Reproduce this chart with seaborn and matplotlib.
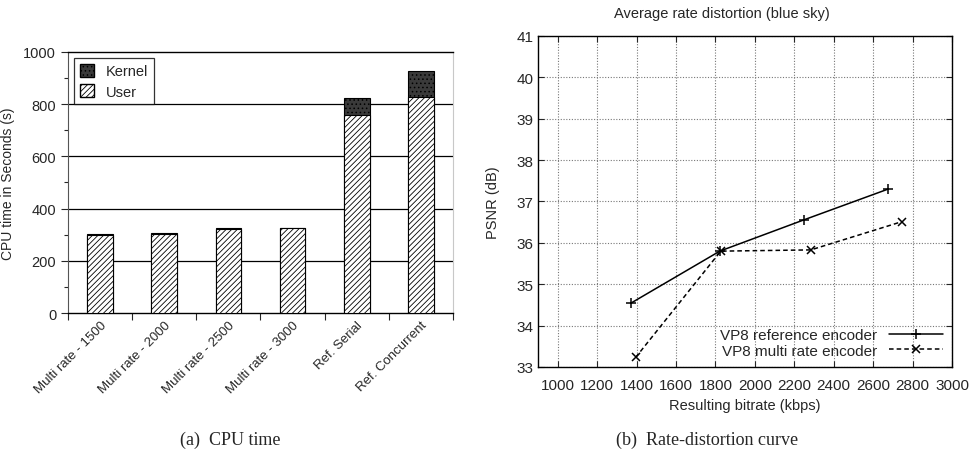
import numpy as np
import pandas as pd
import seaborn as sns
import matplotlib.pyplot as plt
from matplotlib.patches import Patch
from matplotlib.lines import Line2D

# CPU time data (seconds)
configs = ['Multi rate - 1500', 'Multi rate - 2000', 'Multi rate - 2500',
           'Multi rate - 3000', 'Ref. Serial', 'Ref. Concurrent']
user_time = [298, 304, 321, 324, 757, 829]
kernel_time = [3, 3, 3, 3, 67, 100]

# Rate-distortion data
ref_bitrate = [1370, 1822, 2251, 2676]
ref_psnr = [34.54, 35.80, 36.56, 37.30]
multi_bitrate = [1395, 1827, 2284, 2744]
multi_psnr = [33.23, 35.80, 35.83, 36.51]

sns.set_style('white')
plt.rcParams['font.family'] = ['Liberation Sans', 'DejaVu Sans']
plt.rcParams['hatch.linewidth'] = 0.6

fig = plt.figure(figsize=(9.74, 4.56), dpi=100)

# ---------------- (a) CPU time ----------------
ax1 = fig.add_axes([0.0698, 0.3114, 0.3953, 0.5724])
df_cpu = pd.DataFrame({'config': configs, 'user': user_time, 'kernel': kernel_time})
df_cpu['total'] = df_cpu['user'] + df_cpu['kernel']

for y in [200, 400, 600, 800]:
    ax1.axhline(y, color='black', lw=0.9, zorder=0)

sns.barplot(data=df_cpu, x='config', y='total', ax=ax1, width=0.4,
            color='#3a3a3a', edgecolor='black', linewidth=0.8, hatch='....',
            saturation=1, zorder=2)
sns.barplot(data=df_cpu, x='config', y='user', ax=ax1, width=0.4,
            color='white', edgecolor='black', linewidth=0.8, hatch='//////',
            saturation=1, zorder=3)

ax1.set_ylim(0, 1000)
ax1.set_xlim(-0.5, 5.5)
ax1.set_yticks(range(0, 1001, 200))
ax1.set_yticks(range(0, 1001, 100), minor=True)
ax1.set_xticks(np.arange(-0.5, 6, 1), minor=True)
ax1.tick_params(axis='x', which='major', length=0, pad=4)
ax1.tick_params(axis='x', which='minor', length=5, width=0.8, direction='out', bottom=True)
ax1.tick_params(axis='y', which='major', length=5, width=0.8, direction='out', left=True, labelsize=10.5)
ax1.tick_params(axis='y', which='minor', length=3, width=0.8, direction='out', left=True)
ax1.set_xticks(range(len(configs)))
ax1.set_xticklabels(configs, rotation=45, ha='right', rotation_mode='anchor', fontsize=9.5)
ax1.set_xlabel('')
ax1.set_ylabel('CPU time in Seconds (s)', fontsize=10, labelpad=6)
for side in ['top', 'bottom']:
    ax1.spines[side].set_color('black')
    ax1.spines[side].set_linewidth(1.0)
ax1.spines['left'].set_color('#555555')
ax1.spines['right'].set_color('#c8c8c8')

handles = [Patch(facecolor='#3a3a3a', edgecolor='black', hatch='....', label='Kernel'),
           Patch(facecolor='white', edgecolor='black', hatch='//////', label='User')]
leg1 = ax1.legend(handles=handles, loc='upper left', fontsize=10.5, frameon=True,
                  fancybox=False, edgecolor='black', handlelength=1.0, handleheight=1.0,
                  borderaxespad=0.4, labelspacing=0.4)
leg1.get_frame().set_linewidth(0.9)

# ---------------- (b) Rate-distortion curve ----------------
ax2 = fig.add_axes([0.5524, 0.193, 0.425, 0.7259])
df_ref = pd.DataFrame({'bitrate': ref_bitrate, 'psnr': ref_psnr})
df_multi = pd.DataFrame({'bitrate': multi_bitrate, 'psnr': multi_psnr})

sns.lineplot(data=df_ref, x='bitrate', y='psnr', ax=ax2, color='black', lw=1.1,
             marker='+', markersize=7, markeredgewidth=1.1,
             markeredgecolor='black', sort=False)
sns.lineplot(data=df_multi, x='bitrate', y='psnr', ax=ax2, color='black', lw=1.1,
             linestyle=(0, (3, 2)), marker='x', markersize=5.5, markeredgewidth=1.1,
             markeredgecolor='black', sort=False)

ax2.set_xlim(900, 3000)
ax2.set_ylim(33, 41)
ax2.set_xticks(range(1000, 3001, 200))
ax2.set_yticks(range(33, 42))
ax2.grid(True, linestyle=(0, (1, 1.5)), color='#777777', lw=0.8)
ax2.tick_params(axis='both', direction='in', length=4, width=0.8, top=True,
                right=True, bottom=True, left=True, labelsize=11)
ax2.tick_params(axis='x', pad=8)
ax2.set_xlabel('Resulting bitrate (kbps)', fontsize=10.5, labelpad=4)
ax2.set_ylabel('PSNR (dB)', fontsize=10.5, labelpad=12)
for s in ax2.spines.values():
    s.set_color('black')
    s.set_linewidth(1.0)

leg_handles = [
    Line2D([], [], color='black', lw=1.1, marker='+', markersize=7,
           markeredgewidth=1.1),
    Line2D([], [], color='black', lw=1.1, linestyle=(0, (3, 2)), marker='x',
           markersize=5.5, markeredgewidth=1.1),
]
ax2.legend(leg_handles, ['VP8 reference encoder', 'VP8 multi rate encoder'],
           loc='lower right', frameon=False, markerfirst=False, fontsize=11,
           handlelength=3.5, borderaxespad=0.2, labelspacing=0.1,
           numpoints=1, handletextpad=0.8)

fig.text(0.741, 0.969, 'Average rate distortion (blue sky)', ha='center',
         va='center', fontsize=10.5)

# captions
fig.text(0.236, 0.035, '(a)  CPU time', ha='center', va='center',
         fontsize=13, family=['Liberation Serif', 'DejaVu Serif'])
fig.text(0.726, 0.035, '(b)  Rate-distortion curve', ha='center', va='center',
         fontsize=13, family=['Liberation Serif', 'DejaVu Serif'])

fig.savefig('out.png', dpi=100)
